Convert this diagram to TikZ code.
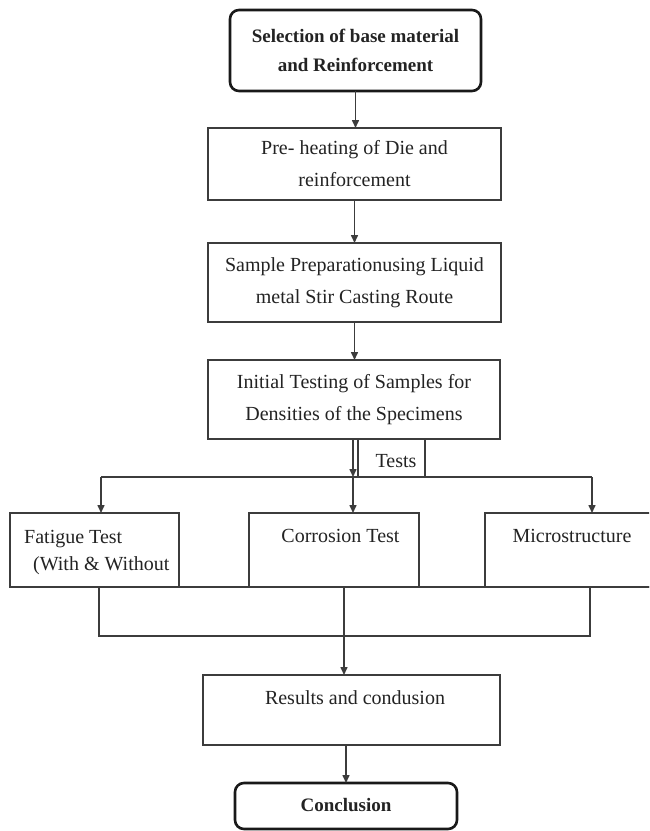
\documentclass[tikz,border=0pt]{standalone}
\usepackage{fontspec}
\setmainfont{Liberation Serif}
\usetikzlibrary{arrows.meta}
\definecolor{ink}{RGB}{60,60,60}
\definecolor{txtc}{RGB}{35,35,35}
\begin{document}
\begin{tikzpicture}[x=1pt,y=-1pt,
  font=\fontsize{20}{32}\selectfont,
  box/.style={draw=ink, line width=1.8pt, inner sep=0pt, outer sep=0pt, text=txtc, align=center},
  rbox/.style={draw=black!90, line width=2.6pt, rounded corners=9pt, inner sep=0pt, outer sep=0pt, text=txtc, align=center},
  txt/.style={text=txtc, inner sep=0pt},
  conn/.style={draw=ink, line width=1.5pt},
  arr/.style={conn, -{Triangle[length=8pt,width=7pt]}}]
\clip (0,0) rectangle (649,831);
\fill[white] (0,0) rectangle (649,831);
% main column
\node[rbox, minimum width=251pt, minimum height=81pt, font=\fontsize{19}{29}\selectfont\bfseries] (top) at (355.5,50.5)
  {Selection of base material\\and Reinforcement};
\node[box, minimum width=293pt, minimum height=72pt] (b2) at (354.5,164)
  {Pre- heating of Die and\\reinforcement};
\node[box, minimum width=293pt, minimum height=79pt] (b3) at (354.5,282.5)
  {Sample Preparationusing Liquid\\metal Stir Casting Route};
\node[box, minimum width=292pt, minimum height=79pt] (b4) at (354,399.5)
  {Initial Testing of Samples for\\Densities of the Specimens};
\node[box, minimum width=67pt, minimum height=38pt] (tests) at (391.5,458) {};
\node[txt, anchor=base] (ttests) at (396,467) {Tests};
% test boxes
\node[box, minimum width=169pt, minimum height=74pt] (fat) at (94.5,550) {};
\node[box, minimum width=170pt, minimum height=74pt] (cor) at (334,550) {};
\node[box, minimum width=175pt, minimum height=74pt] (mic) at (572.5,550) {};
\node[txt, anchor=base west] (tfat1) at (24,543) {Fatigue Test};
\node[txt, anchor=base west] (tfat2) at (33,570) {(With \& Without};
\node[txt, anchor=base] (tcor) at (340.5,542) {Corrosion Test};
\node[txt, anchor=base] (tmic) at (572,542) {Microstructure};
% results
\node[box, minimum width=297pt, minimum height=70pt] (res) at (351.5,710) {};
\node[txt, anchor=base] (tres) at (355,704) {Results and condusion};
\node[rbox, minimum width=222pt, minimum height=46pt] (conc) at (346,806) {};
\node[txt, anchor=base, font=\fontsize{19}{29}\selectfont\bfseries] (tconc) at (346,811) {Conclusion};
% junction coordinates
\coordinate (jL) at (101,477);
\coordinate (jC) at (353,477);
\coordinate (jR) at (592,477);
\coordinate (bL) at (99,636);
\coordinate (bC) at (344,636);
\coordinate (bR) at (590,636);
% connectors
\draw[arr] (top.south) -- (top.south |- b2.north);
\draw[arr] (b2.south) -- (b2.south |- b3.north);
\draw[arr] (b3.south) -- (b3.south |- b4.north);
\draw[arr] (jC |- b4.south) -- (jC);
\draw[conn] (jL) -- (jR);
\draw[arr] (jL) -- (jL |- fat.north);
\draw[arr] (jC) -- (jC |- cor.north);
\draw[arr] (jR) -- (jR |- mic.north);
\draw[conn] (fat.south west) -- (mic.south east);
\draw[conn] (bL |- fat.south) -- (bL) -- (bR) -- (bR |- mic.south);
\draw[conn] (bC |- cor.south) -- (bC);
\draw[arr] (bC) -- (bC |- res.north);
\draw[arr] (conc.north |- res.south) -- (conc.north);
\end{tikzpicture}
\end{document}
